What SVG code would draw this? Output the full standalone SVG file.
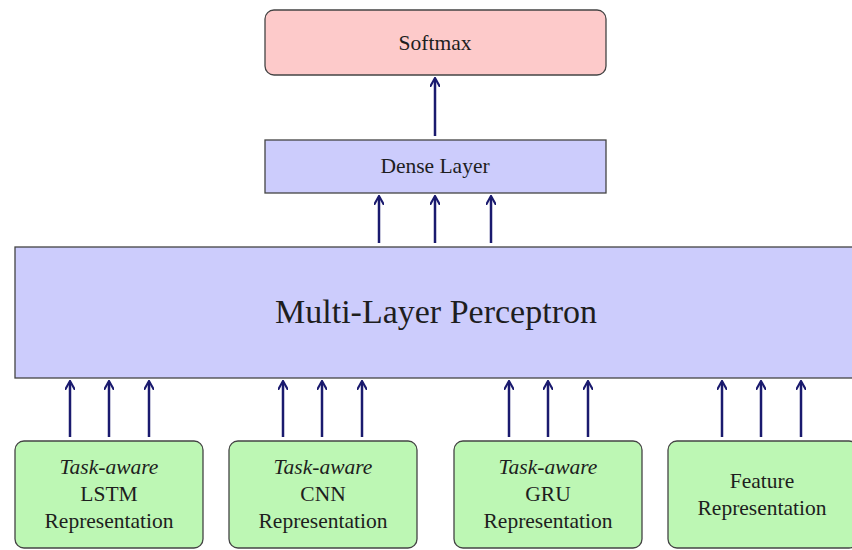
<svg xmlns="http://www.w3.org/2000/svg" width="852" height="550" viewBox="0 0 852 550">
<defs>
<style>
.t{font-family:"Liberation Serif","Times New Roman",serif;fill:#1e1e1e;text-anchor:middle}
.b{stroke:#444;stroke-width:1.3}
.rep{fill:#bdf7b4}
.r{font-size:21.5px}
.a{stroke:#1a1a6e;stroke-width:2.5;fill:none;marker-end:url(#ah)}
</style>
<marker id="ah" viewBox="0 0 10 10" refX="8" refY="5" markerWidth="4.2" markerHeight="4.2" orient="auto" markerUnits="strokeWidth">
<path d="M0,0 L9,5 L0,10" fill="none" stroke="#1a1a6e" stroke-width="2"/>
</marker>
</defs>
<rect width="852" height="550" fill="#fff"/>
<g id="softmax"><rect class="b" x="265" y="10" width="341" height="65" rx="9" fill="#fdcaca"/><text class="t" x="435" y="50" font-size="21.5">Softmax</text></g>
<g id="dense"><rect class="b" x="265" y="140" width="341" height="53" fill="#ccccfc"/><text class="t" x="435" y="173" font-size="21.5">Dense Layer</text></g>
<g id="mlp"><rect class="b" x="15" y="247" width="850" height="131" fill="#ccccfc"/><text class="t" x="436" y="323" font-size="34">Multi-Layer Perceptron</text></g>
<g id="lstm"><rect class="b rep" x="15" y="441" width="188" height="107" rx="9"/><text class="t r" x="109" y="474"><tspan font-style="italic">Task-aware</tspan><tspan x="109" dy="27">LSTM</tspan><tspan x="109" dy="27">Representation</tspan></text></g>
<g id="cnn"><rect class="b rep" x="229" y="441" width="188" height="107" rx="9"/><text class="t r" x="323" y="474"><tspan font-style="italic">Task-aware</tspan><tspan x="323" dy="27">CNN</tspan><tspan x="323" dy="27">Representation</tspan></text></g>
<g id="gru"><rect class="b rep" x="454" y="441" width="188" height="107" rx="9"/><text class="t r" x="548" y="474"><tspan font-style="italic">Task-aware</tspan><tspan x="548" dy="27">GRU</tspan><tspan x="548" dy="27">Representation</tspan></text></g>
<g id="feature"><rect class="b rep" x="668" y="441" width="190" height="107" rx="9"/><text class="t r" x="762" y="488">Feature<tspan x="762" dy="27">Representation</tspan></text></g>
<g id="connectors">
<line class="a" x1="435" y1="136" x2="435" y2="79"/>
<line class="a" x1="379" y1="243" x2="379" y2="197"/>
<line class="a" x1="435" y1="243" x2="435" y2="197"/>
<line class="a" x1="491" y1="243" x2="491" y2="197"/>
<line class="a" x1="70" y1="437" x2="70" y2="382"/>
<line class="a" x1="109" y1="437" x2="109" y2="382"/>
<line class="a" x1="149" y1="437" x2="149" y2="382"/>
<line class="a" x1="283" y1="437" x2="283" y2="382"/>
<line class="a" x1="322" y1="437" x2="322" y2="382"/>
<line class="a" x1="362" y1="437" x2="362" y2="382"/>
<line class="a" x1="509" y1="437" x2="509" y2="382"/>
<line class="a" x1="548" y1="437" x2="548" y2="382"/>
<line class="a" x1="588" y1="437" x2="588" y2="382"/>
<line class="a" x1="722" y1="437" x2="722" y2="382"/>
<line class="a" x1="761" y1="437" x2="761" y2="382"/>
<line class="a" x1="801" y1="437" x2="801" y2="382"/>
</g>
</svg>
